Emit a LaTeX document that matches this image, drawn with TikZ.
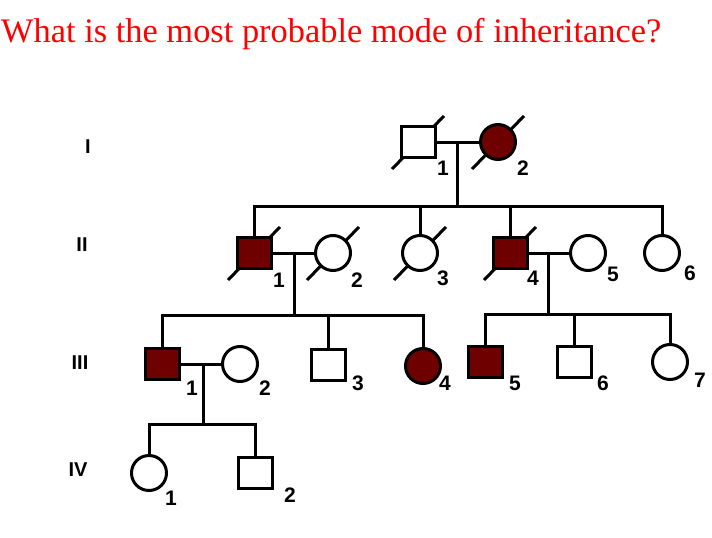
\documentclass[tikz,border=0pt]{standalone}
\usepackage{fontspec}
\setmainfont{Liberation Serif}
\newfontfamily\pedfont{Liberation Sans}
\usetikzlibrary{backgrounds}

\definecolor{affected}{RGB}{110,0,0}
\definecolor{titlered}{RGB}{255,0,0}

\begin{document}
\begin{tikzpicture}[
  x=1pt,y=-1pt,
  line/.style={line width=3pt,black},
  male/.style={draw,line width=3pt,fill=white,rectangle,minimum width=34pt,minimum height=31pt,inner sep=0pt},
  female/.style={draw,line width=3pt,fill=white,circle,minimum size=35pt,inner sep=0pt},
  aff/.style={fill=affected},
  num/.style={font=\pedfont\bfseries\fontsize{21}{21}\selectfont,inner sep=0pt},
  gen/.style={font=\pedfont\bfseries\fontsize{20}{20}\selectfont,inner sep=0pt},
  slash/.style={line width=3pt},
]
\useasboundingbox (0,0) rectangle (712,538);

% title
\node[anchor=base west,inner sep=0pt,text=titlered,font=\fontsize{34.4}{34.4}\selectfont] (title) at (1,42) {What is the most probable mode of inheritance?};

% generation labels
\node[gen] (gI) at (88,147) {I};
\node[gen] (gII) at (82,245) {II};
\node[gen] (gIII) at (80,363) {III};
\node[gen] (gIV) at (78,470) {IV};

% generation I
\node[male] (I1) at (418,142) {};
\node[female,aff] (I2) at (498,142) {};
% generation II
\node[male,aff] (II1) at (254,253) {};
\node[female] (II2) at (333,253) {};
\node[female] (II3) at (420,253) {};
\node[male,aff] (II4) at (510,253) {};
\node[female] (II5) at (588,253) {};
\node[female] (II6) at (662,253) {};
% generation III
\node[male,aff] (III1) at (162,364) {};
\node[female] (III2) at (240,364) {};
\node[male] (III3) at (328,365) {};
\node[female,aff] (III4) at (423,366) {};
\node[male,aff] (III5) at (485,362) {};
\node[male] (III6) at (574,362) {};
\node[female] (III7) at (670,362) {};
% generation IV
\node[female] (IV1) at (149,473) {};
\node[male] (IV2) at (255,473) {};

% deceased
\begin{scope}[on background layer]
\fill[white] (0,0) rectangle (712,538);
\foreach \p in {I1,I2,II1,II2,II3,II4}
  \draw[slash] ([shift={(-26,27)}]\p.center) -- ([shift={(26,-26)}]\p.center);
\end{scope}

% marriages and sibships
\coordinate (m1) at (457,142);
\coordinate (s1) at (457,206);
\draw[line] (I1) -- (I2);
\draw[line] (m1) -- (s1);
\draw[line] (II1.north) |- (s1) -| (II6.north);
\draw[line] (II3.north) -- (II3.north |- s1);
\draw[line] (II4.north) -- (II4.north |- s1);

\coordinate (m2) at (294,253);
\coordinate (s2) at (294,315);
\draw[line] (II1) -- (II2);
\draw[line] (m2) -- (s2);
\draw[line] (III1.north) |- (s2) -| (III4.north);
\draw[line] (III3.north) -- (III3.north |- s2);

\coordinate (m3) at (548,253);
\coordinate (s3) at (548,314);
\draw[line] (II4) -- (II5);
\draw[line] (m3) -- (s3);
\draw[line] (III5.north) |- (s3) -| (III7.north);
\draw[line] (III6.north) -- (III6.north |- s3);

\coordinate (m4) at (203,364);
\coordinate (s4) at (203,424);
\draw[line] (III1) -- (III2);
\draw[line] (m4) -- (s4);
\draw[line] (IV1.north) |- (s4) -| (IV2.north);

% individual numbers
\node[num] (nI1) at (443,168) {1};
\node[num] (nI2) at (523,168) {2};
\node[num] (nII1) at (279,280) {1};
\node[num] (nII2) at (357,280) {2};
\node[num] (nII3) at (443,278) {3};
\node[num] (nII4) at (533,278) {4};
\node[num] (nII5) at (613,274) {5};
\node[num] (nII6) at (690,273) {6};
\node[num] (nIII1) at (192,388) {1};
\node[num] (nIII2) at (265,388) {2};
\node[num] (nIII3) at (358,383) {3};
\node[num] (nIII4) at (445,383) {4};
\node[num] (nIII5) at (515,383) {5};
\node[num] (nIII6) at (603,383) {6};
\node[num] (nIII7) at (700,380) {7};
\node[num] (nIV1) at (171,498) {1};
\node[num] (nIV2) at (290,495) {2};
\end{tikzpicture}
\end{document}
